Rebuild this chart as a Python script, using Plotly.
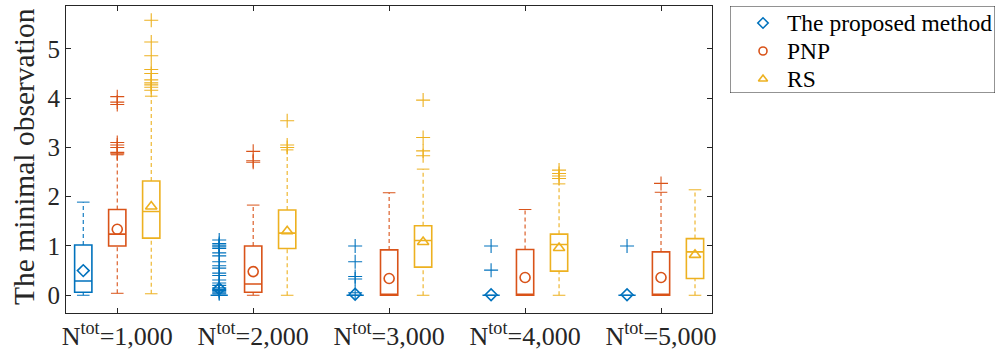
import plotly.graph_objects as go

categories = ["N<sup>tot</sup>=1,000", "N<sup>tot</sup>=2,000", "N<sup>tot</sup>=3,000",
              "N<sup>tot</sup>=4,000", "N<sup>tot</sup>=5,000"]
methods = ["The proposed method", "PNP", "RS"]
colors = ["#0072BD", "#D95319", "#EDB120"]
mean_symbols = ["diamond-open", "circle-open", "triangle-up-open"]
mean_sizes = [9, 10, 10]
offsets = [-0.25, 0.0, 0.25]

# box statistics
prop_q1 = [0.06, 0.0, 0.0, 0.0, 0.0]
prop_med = [0.29, 0.0, 0.0, 0.0, 0.0]
prop_q3 = [1.02, 0.0, 0.0, 0.0, 0.0]
prop_lo = [0.0, 0.0, 0.0, 0.0, 0.0]
prop_hi = [1.89, 0.0, 0.0, 0.0, 0.0]
prop_mean = [0.50, 0.13, 0.02, 0.01, 0.01]
prop_out = [
    [],
    [1.12, 1.05, 1.02, 1.0, 0.98, 0.95, 0.86, 0.8, 0.68, 0.6, 0.55, 0.45, 0.4,
     0.31, 0.25, 0.2, 0.15, 0.12, 0.1, 0.08, 0.05, 0.03],
    [1.0, 0.68, 0.38, 0.33, 0.05],
    [1.0, 0.51],
    [1.0],
]

pnp_q1 = [1.0, 0.06, 0.0, 0.0, 0.0]
pnp_med = [1.24, 0.23, 0.0, 0.0, 0.0]
pnp_q3 = [1.74, 1.0, 0.92, 0.93, 0.88]
pnp_lo = [0.04, 0.0, 0.0, 0.0, 0.0]
pnp_hi = [2.85, 1.83, 2.08, 1.74, 2.09]
pnp_mean = [1.34, 0.48, 0.34, 0.36, 0.36]
pnp_out = [
    [2.87, 2.9, 3.0, 3.05, 3.1, 3.87, 3.92, 4.03],
    [2.70, 2.73, 2.92],
    [],
    [],
    [2.27],
]

rs_q1 = [1.16, 0.95, 0.57, 0.49, 0.34]
rs_med = [1.70, 1.26, 1.11, 1.03, 0.88]
rs_q3 = [2.32, 1.73, 1.41, 1.24, 1.15]
rs_lo = [0.03, 0.0, 0.0, 0.0, 0.0]
rs_hi = [4.04, 2.95, 2.56, 2.26, 2.14]
rs_mean = [1.80, 1.30, 1.08, 0.96, 0.82]
rs_out = [
    [4.16, 4.22, 4.27, 4.31, 4.37, 4.50, 4.58, 4.86, 5.14, 5.58],
    [3.0, 3.05, 3.54],
    [2.83, 2.93, 3.2, 3.96],
    [2.37, 2.42, 2.47, 2.54],
    [],
]

stats = [
    (prop_q1, prop_med, prop_q3, prop_lo, prop_hi, prop_mean, prop_out),
    (pnp_q1, pnp_med, pnp_q3, pnp_lo, pnp_hi, pnp_mean, pnp_out),
    (rs_q1, rs_med, rs_q3, rs_lo, rs_hi, rs_mean, rs_out),
]

FONT = "Liberation Serif, Times New Roman, serif"
TXT = "#262626"
BOXW = 0.127
W, H = 999, 358

fig = go.Figure()
positions = list(range(1, len(categories) + 1))

for m, (q1, med, q3, lo, hi, mean, outs) in enumerate(stats):
    c = colors[m]
    xs = [p + offsets[m] for p in positions]
    fig.add_trace(go.Box(
        x=xs, q1=q1, median=med, q3=q3, lowerfence=q1, upperfence=q3,
        width=BOXW, whiskerwidth=0, boxpoints=False,
        line=dict(color=c, width=1.6), fillcolor="rgba(255,255,255,0)",
        showlegend=False, hoverinfo="skip",
    ))
    wx, wy = [], []
    for x, a, b, l, h in zip(xs, q1, q3, lo, hi):
        if h > b:
            wx += [x, x, None]
            wy += [b, h, None]
        if l < a:
            wx += [x, x, None]
            wy += [l, a, None]
    fig.add_trace(go.Scatter(
        x=wx, y=wy, mode="lines", line=dict(color=c, width=1.1, dash="4px,3px"),
        showlegend=False, hoverinfo="skip",
    ))
    cx, cy = [], []
    for x, l, h, a, b in zip(xs, lo, hi, q1, q3):
        if h > b:
            cx.append(x); cy.append(h)
        if l < a or l == 0:
            cx.append(x); cy.append(l)
    fig.add_trace(go.Scatter(
        x=cx, y=cy, mode="markers",
        marker=dict(symbol="line-ew", size=9, line=dict(color=c, width=1)),
        showlegend=False, hoverinfo="skip",
    ))
    ox, oy = [], []
    for x, o in zip(xs, outs):
        ox += [x] * len(o)
        oy += o
    fig.add_trace(go.Scatter(
        x=ox, y=oy, mode="markers",
        marker=dict(symbol="cross-thin", size=10, line=dict(color=c, width=1.1)),
        showlegend=False, hoverinfo="skip",
    ))

for m, (q1, med, q3, lo, hi, mean, outs) in enumerate(stats):
    xs = [p + offsets[m] for p in positions]
    fig.add_trace(go.Scatter(
        x=xs, y=mean, mode="markers", name=methods[m], showlegend=False,
        marker=dict(symbol=mean_symbols[m], size=mean_sizes[m], color=colors[m],
                    line=dict(color=colors[m], width=1.6)),
        hoverinfo="skip",
    ))

# legend, drawn on its own hidden axes (pixel-like units)
leg_rows = [23, 51, 79]
for m in range(len(methods)):
    fig.add_trace(go.Scatter(
        x=[763], y=[leg_rows[m]], mode="markers", xaxis="x2", yaxis="y2",
        showlegend=False, hoverinfo="skip",
        marker=dict(symbol=mean_symbols[m], size=8, color=colors[m],
                    line=dict(color=colors[m], width=1.6)),
    ))

annotations = [
    dict(text=methods[m], x=785, y=leg_rows[m], xref="x2", yref="y2",
         xanchor="left", yanchor="middle", showarrow=False,
         font=dict(family=FONT, size=23.5, color="#000000"))
    for m in range(len(methods))
]
annotations.append(dict(
    text="The minimal observation", textangle=-90,
    x=24 / W, y=1 - 157 / H, xref="paper", yref="paper",
    xanchor="center", yanchor="middle", showarrow=False,
    font=dict(family=FONT, size=29.5, color=TXT),
))

axis_common = dict(
    showline=True, mirror="ticks", ticks="inside", ticklen=5, tickwidth=1,
    linecolor=TXT, linewidth=1, tickcolor=TXT, showgrid=False, zeroline=False,
    automargin=False,
)

fig.update_layout(
    width=W, height=H,
    margin=dict(l=0, r=0, t=0, b=0),
    paper_bgcolor="white", plot_bgcolor="white",
    font=dict(family=FONT, color=TXT),
    xaxis=dict(range=[0.623, 5.375], tickvals=positions, ticktext=categories,
               domain=[66 / W, 712 / W],
               tickfont=dict(family=FONT, size=26, color=TXT), **axis_common),
    yaxis=dict(range=[-0.36, 5.87], tickvals=[0, 1, 2, 3, 4, 5],
               domain=[1 - 313 / H, 1 - 6 / H],
               tickfont=dict(family=FONT, size=25, color=TXT), **axis_common),
    xaxis2=dict(domain=[730 / W, 995 / W], range=[730, 995], visible=False,
                anchor="y2", fixedrange=True),
    yaxis2=dict(domain=[1 - 93 / H, 1 - 6 / H], range=[93, 6], visible=False,
                anchor="x2", fixedrange=True),
    annotations=annotations,
    shapes=[dict(type="rect", xref="x2", yref="y2",
                 x0=730, x1=995, y0=6, y1=93,
                 line=dict(color=TXT, width=1))],
    showlegend=False,
)

fig.write_html(
    "out.html",
    config={"displayModeBar": False},
    post_script="document.body.style.margin='0';document.body.style.padding='0';",
)
